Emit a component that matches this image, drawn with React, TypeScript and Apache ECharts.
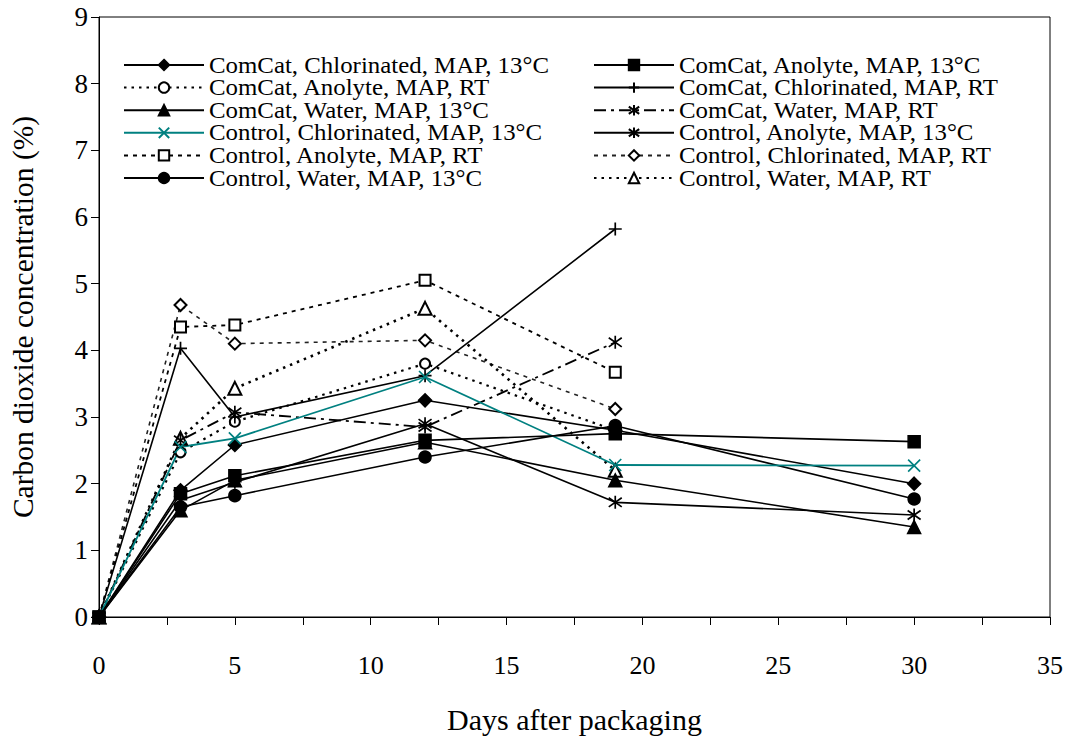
import React, { useEffect, useRef } from "react";
import * as echarts from "echarts";

const days = [0, 3, 5, 12, 19, 30];

const comcatChlor13 = [0, 1.9, 2.58, 3.25, 2.8, 2.0];
const comcatAnolyteRT = [0, 2.47, 2.93, 3.8, 2.8];
const comcatWater13 = [0, 1.6, 2.05, 2.62, 2.05, 1.35];
const controlChlor13 = [0, 2.55, 2.68, 3.6, 2.28, 2.27];
const controlAnolyteRT = [0, 4.35, 4.38, 5.05, 3.67];
const controlWater13 = [0, 1.65, 1.82, 2.4, 2.87, 1.77];
const comcatAnolyte13 = [0, 1.85, 2.12, 2.65, 2.75, 2.63];
const comcatChlorRT = [0, 4.03, 3.0, 3.62, 5.82];
const comcatWaterRT = [0, 2.65, 3.07, 2.85, 4.12];
const controlAnolyte13 = [0, 1.75, 2.02, 2.9, 1.72, 1.53];
const controlChlorRT = [0, 4.68, 4.1, 4.15, 3.12];
const controlWaterRT = [0, 2.68, 3.43, 4.63, 2.2];

const leftLegend = [
  "ComCat, Chlorinated, MAP, 13°C",
  "ComCat, Anolyte, MAP, RT",
  "ComCat, Water, MAP, 13°C",
  "Control, Chlorinated, MAP, 13°C",
  "Control, Anolyte, MAP, RT",
  "Control, Water, MAP, 13°C",
];
const rightLegend = [
  "ComCat, Anolyte, MAP, 13°C",
  "ComCat, Chlorinated, MAP, RT",
  "ComCat, Water, MAP, RT",
  "Control, Anolyte, MAP, 13°C",
  "Control, Chlorinated, MAP, RT",
  "Control, Water, MAP, RT",
];

const PLUS = "path://M5,0 L5,10 M0,5 L10,5";
const CROSS = "path://M0,0 L10,10 M10,0 L0,10";
const STAR = "path://M5,0 L5,10 M0.8,1.5 L9.2,8.5 M9.2,1.5 L0.8,8.5";

const FONT = "'Liberation Serif', 'Times New Roman', serif";

function pts(vals: number[]) {
  return vals.map((v, i) => [days[i], v]);
}

type Def = {
  name: string;
  vals: number[];
  symbol: string;
  size: number;
  color?: string;
  lineType: any;
  lineWidth: number;
  stroke?: boolean;
};

const defs: Def[] = [
  { name: "Control, Chlorinated, MAP, RT", vals: controlChlorRT, symbol: "emptyDiamond", size: 12, lineType: [4, 5], lineWidth: 1.6, color: "#222" },
  { name: "Control, Anolyte, MAP, RT", vals: controlAnolyteRT, symbol: "emptyRect", size: 11, lineType: [4, 5], lineWidth: 1.8 },
  { name: "Control, Water, MAP, RT", vals: controlWaterRT, symbol: "emptyTriangle", size: 13, lineType: [2.5, 5], lineWidth: 2.6 },
  { name: "ComCat, Anolyte, MAP, RT", vals: comcatAnolyteRT, symbol: "emptyCircle", size: 10, lineType: [2.5, 5], lineWidth: 2.2 },
  { name: "ComCat, Water, MAP, RT", vals: comcatWaterRT, symbol: STAR, size: 13, lineType: [12, 5, 3, 5], lineWidth: 1.8, stroke: true },
  { name: "ComCat, Chlorinated, MAP, RT", vals: comcatChlorRT, symbol: PLUS, size: 13, lineType: "solid", lineWidth: 1.6, stroke: true },
  { name: "ComCat, Chlorinated, MAP, 13°C", vals: comcatChlor13, symbol: "diamond", size: 13, lineType: "solid", lineWidth: 1.6 },
  { name: "ComCat, Water, MAP, 13°C", vals: comcatWater13, symbol: "triangle", size: 13, lineType: "solid", lineWidth: 1.6 },
  { name: "Control, Water, MAP, 13°C", vals: controlWater13, symbol: "circle", size: 12, lineType: "solid", lineWidth: 1.6 },
  { name: "Control, Anolyte, MAP, 13°C", vals: controlAnolyte13, symbol: STAR, size: 13, lineType: "solid", lineWidth: 1.6, stroke: true },
  { name: "Control, Chlorinated, MAP, 13°C", vals: controlChlor13, symbol: CROSS, size: 12, lineType: "solid", lineWidth: 1.8, stroke: true, color: "#008080" },
  { name: "ComCat, Anolyte, MAP, 13°C", vals: comcatAnolyte13, symbol: "rect", size: 12, lineType: "solid", lineWidth: 1.6 },
];

const ROW0 = 65;
const ROW_STEP = 22.6;

export default function App() {
  const ref = useRef<HTMLDivElement>(null);
  useEffect(() => {
    if (!ref.current) return;
    const chart = echarts.init(ref.current, undefined, { renderer: "svg" });
    const series = defs.map((d) => {
      const c = d.color || "#000";
      return {
        type: "line",
        name: d.name,
        data: pts(d.vals),
        symbol: d.symbol,
        symbolSize: d.size,
        showAllSymbol: true,
        lineStyle: { color: c, width: d.lineWidth, type: d.lineType },
        itemStyle: d.stroke
          ? { color: "rgba(0,0,0,0)", borderColor: c === "#222" ? "#000" : c, borderWidth: 1.7 }
          : { color: "#000", borderColor: "#000", borderWidth: 1.5 },
        emphasis: { disabled: true },
        z: 2,
      };
    });
    const legendCommon = {
      orient: "vertical",
      itemWidth: 80,
      itemHeight: 13,
      padding: 0,
      selectedMode: false,
      formatter: () => "",
      textStyle: { fontSize: 10, lineHeight: 13, height: 13 },
    };
    const legends: any[] = [];
    const texts: any[] = [];
    leftLegend.forEach((n, i) => {
      legends.push({ ...legendCommon, left: 123, top: ROW0 - 6.5 + i * ROW_STEP, data: [n] });
      texts.push({ x: 209, y: ROW0 + i * ROW_STEP, n });
    });
    rightLegend.forEach((n, i) => {
      legends.push({ ...legendCommon, left: 593, top: ROW0 - 6.5 + i * ROW_STEP, data: [n] });
      texts.push({ x: 679, y: ROW0 + i * ROW_STEP, n });
    });
    chart.setOption({
      animation: false,
      backgroundColor: "#fff",
      grid: {
        left: 95,
        right: 23,
        top: 17,
        bottom: 123,
        show: true,
        borderColor: "#000",
        borderWidth: 1,
        backgroundColor: "transparent",
      },
      legend: legends,
      graphic: texts.map((t) => ({
        type: "text",
        x: t.x,
        y: t.y,
        scaleX: 1.11,
        silent: true,
        style: {
          text: t.n,
          fontFamily: FONT,
          fontSize: 22.4,
          fill: "#000",
          align: "left",
          verticalAlign: "middle",
        },
      })),
      xAxis: {
        type: "value",
        min: 0,
        max: 35,
        interval: 2.5,
        name: "Days after packaging",
        nameLocation: "middle",
        nameGap: 87,
        nameTextStyle: { fontFamily: FONT, fontSize: 30, color: "#000" },
        axisLine: { lineStyle: { color: "#000", width: 1 } },
        axisTick: { show: true, inside: false, length: 8, lineStyle: { color: "#000" } },
        axisLabel: {
          fontFamily: FONT,
          fontSize: 26,
          color: "#000",
          margin: 35,
          formatter: (v: number) => (v % 5 === 0 ? String(v) : ""),
        },
        splitLine: { show: false },
      },
      yAxis: {
        type: "value",
        min: 0,
        max: 9,
        interval: 1,
        name: "Carbon dioxide concentration (%)",
        nameLocation: "middle",
        nameGap: 61,
        nameTextStyle: { fontFamily: FONT, fontSize: 29.5, color: "#000" },
        axisLine: { show: true, lineStyle: { color: "#000", width: 1 } },
        axisTick: { show: true, inside: false, length: 8, lineStyle: { color: "#000" } },
        axisLabel: { fontFamily: FONT, fontSize: 27, color: "#000", margin: 11 },
        splitLine: { show: false },
      },
      series,
    });
    return () => chart.dispose();
  }, []);
  return <div ref={ref} style={{ width: 1073, height: 740, position: "absolute", left: 0, top: 0 }} />;
}
